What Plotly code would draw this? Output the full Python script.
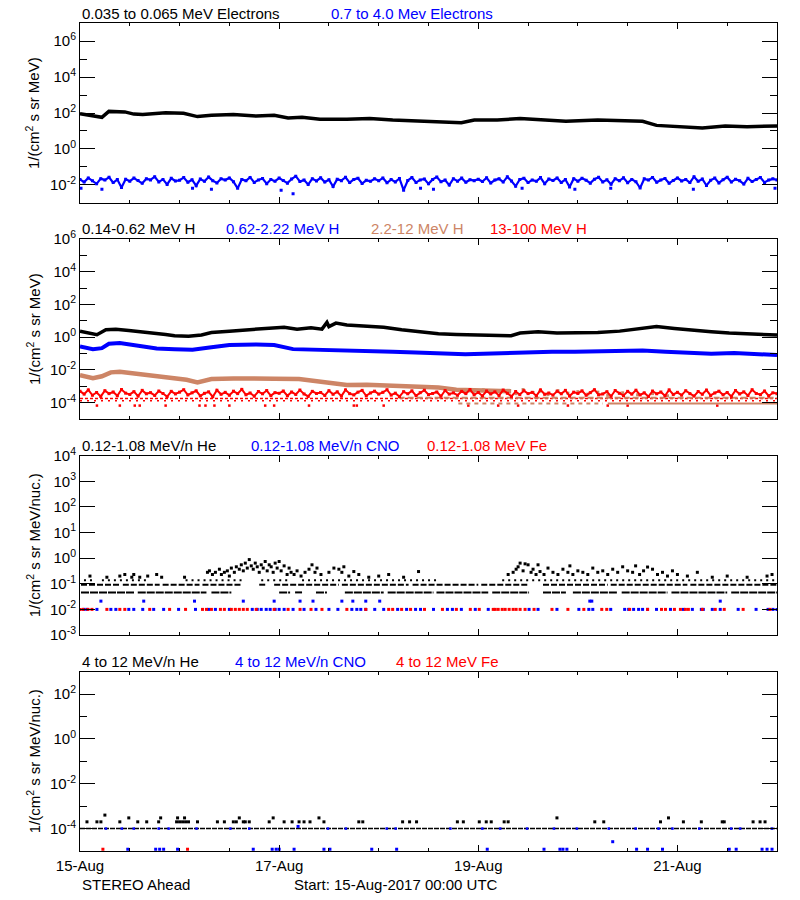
import numpy as np
import plotly.graph_objects as go

BLACK = '#000000'; BLUE = '#0000FF'; RED = '#FF0000'; BROWN = '#CD8566'
FONT = 'Liberation Sans'
FS = 15

# ---------------- Panel 1: electrons ----------------
e_lo_t = [0.00,0.13,0.22,0.29,0.45,0.54,0.63,0.86,1.04,1.18,1.32,1.54,1.77,1.95,2.09,2.23,2.41,2.68,2.91,3.14,3.37,3.60,3.83,3.96,4.19,4.42,4.65,4.88,5.20,5.42,5.65,5.79,6.02,6.25,6.48,6.70,7.00]
e_lo_log = [1.96,1.87,1.76,2.09,2.06,1.94,1.91,2.02,1.98,1.80,1.87,1.91,1.83,1.87,1.72,1.76,1.65,1.65,1.69,1.61,1.57,1.50,1.46,1.61,1.61,1.69,1.61,1.54,1.61,1.57,1.54,1.31,1.24,1.17,1.28,1.24,1.28]

# hourly, log10 values
e_hi_log = [
-1.70,-1.85,-1.62,-1.78,-1.95,-1.66,-1.74,-1.58,-1.88,-1.71,-2.15,-1.69,-1.80,-1.63,-1.76,-1.92,-1.67,-1.73,-1.55,-1.84,-1.70,-1.98,-1.64,-1.79,
-1.75,-1.60,-1.86,-1.72,-2.05,-1.68,-1.81,-1.57,-1.77,-1.90,-1.66,-1.74,-1.62,-1.83,-2.20,-1.70,-1.78,-1.59,-1.87,-1.73,-1.65,-1.94,-1.71,-1.80,
-1.63,-1.76,-1.91,-1.68,-1.52,-1.82,-1.74,-1.99,-1.66,-1.79,-1.61,-1.85,-1.72,-2.10,-1.69,-1.77,-1.58,-1.88,-1.70,-1.64,-1.93,-1.75,-1.81,-1.67,
-1.78,-1.62,-1.89,-1.71,-1.84,-1.65,-2.30,-1.76,-1.60,-1.87,-1.73,-1.68,-1.95,-1.70,-1.57,-1.83,-1.74,-2.02,-1.66,-1.80,-1.63,-1.86,-1.72,-1.77,
-1.69,-1.82,-1.61,-1.90,-1.74,-1.67,-1.85,-1.56,-1.79,-2.08,-1.70,-1.64,-1.88,-1.73,-1.81,-1.60,-1.94,-1.68,-1.76,-1.62,-1.87,-1.71,-2.12,-1.66,
-1.80,-1.64,-1.75,-1.91,-1.69,-1.58,-1.84,-1.72,-1.97,-1.66,-1.78,-1.61,-1.89,-1.70,-1.83,-2.18,-1.67,-1.74,-1.59,-1.86,-1.73,-1.65,-1.92,-1.76,
-1.62,-1.79,-1.70,-1.88,-1.55,-1.81,-1.68,-2.04,-1.75,-1.63,-1.90,-1.72,-1.58,-1.85,-1.69,-1.77,-1.96,-1.64,-1.82,-1.71,-1.60,-1.87,-1.74,-1.67,
-1.73]
e_hi_out_t = [0.01,0.22,1.13,1.32,2.02,2.14,3.42,3.55,4.44,4.97,5.33,6.16,6.98]
e_hi_out_log = [-2.20,-2.25,-2.20,-2.25,-2.30,-2.50,-2.20,-2.25,-2.20,-2.25,-2.20,-2.25,-2.20]

# ---------------- Panel 2: protons ----------------
h1_t = [0.00,0.08,0.17,0.26,0.36,0.49,0.63,0.77,0.86,0.95,1.09,1.22,1.32,1.50,1.68,1.86,2.05,2.18,2.32,2.43,2.48,2.50,2.57,2.68,2.87,3.05,3.23,3.42,3.60,3.78,3.96,4.15,4.33,4.42,4.60,4.79,4.97,5.20,5.42,5.61,5.79,5.97,6.16,6.34,6.52,6.70,7.00]
h1_log = [0.37,0.25,0.15,0.45,0.49,0.41,0.33,0.25,0.17,0.09,0.05,0.13,0.29,0.37,0.45,0.53,0.61,0.49,0.57,0.49,0.90,0.65,0.86,0.74,0.65,0.61,0.45,0.33,0.21,0.17,0.13,0.13,0.09,0.25,0.33,0.25,0.25,0.29,0.37,0.53,0.65,0.53,0.41,0.33,0.25,0.21,0.13]

h2_t = [0.00,0.13,0.22,0.29,0.40,0.58,0.77,0.95,1.13,1.32,1.50,1.77,1.95,2.14,2.32,2.50,2.68,2.91,3.14,3.37,3.60,3.87,4.05,4.33,4.51,4.74,4.97,5.20,5.42,5.65,5.88,6.11,6.34,6.57,6.79,7.00]
h2_log = [-0.57,-0.73,-0.67,-0.40,-0.36,-0.52,-0.69,-0.73,-0.77,-0.61,-0.48,-0.44,-0.48,-0.73,-0.77,-0.81,-0.85,-0.89,-0.89,-0.93,-0.97,-1.05,-1.01,-0.97,-0.89,-0.89,-0.89,-0.85,-0.85,-0.81,-0.89,-0.97,-1.01,-0.97,-1.05,-1.09]

h3_t = [0.00,0.13,0.22,0.31,0.40,0.54,0.72,0.90,1.07,1.18,1.32,1.54,1.77,1.95,2.20,2.32,2.50,2.68,2.88,3.15,3.37,3.60,3.78,4.05,4.33]
h3_log = [-2.32,-2.50,-2.39,-2.15,-2.12,-2.23,-2.39,-2.50,-2.60,-2.76,-2.56,-2.52,-2.50,-2.54,-2.56,-2.66,-2.76,-2.92,-2.90,-2.98,-3.04,-3.08,-3.21,-3.25,-3.31]
h3_pts_t = [3.85,3.95,4.05,4.12,4.20,4.30,4.38,4.45,4.55,4.62,4.70,4.80,4.90,5.00,5.10,5.20,5.30,5.45,5.60,5.75,5.90]
h3_pts_log = [-3.28,-3.35,-3.22,-3.40,-3.30,-3.25,-3.45,-3.20,-3.38,-3.30,-3.50,-3.27,-3.42,-3.33,-3.48,-3.36,-3.55,-3.40,-3.52,-3.45,-3.58]
h3_q1_log = -3.70
h3_q1_seg = [[3.20,7.00]]
h3_q2_log = -4.06
h3_q2_seg = [[3.80,5.25]]
h3_q2b_seg = [[5.30,7.00]]

# hourly, log10 values
h4_log = [
-3.30,-3.48,-3.22,-3.55,-3.38,-3.62,-3.27,-3.45,-3.35,-3.58,-3.20,-3.42,-3.50,-3.33,-3.60,-3.25,-3.46,-3.39,-3.56,-3.29,-3.44,-3.63,-3.31,-3.47,
-3.36,-3.21,-3.53,-3.40,-3.28,-3.59,-3.43,-3.34,-3.64,-3.24,-3.49,-3.37,-3.55,-3.30,-3.45,-3.19,-3.52,-3.41,-3.61,-3.32,-3.46,-3.26,-3.57,-3.39,
-3.43,-3.29,-3.58,-3.35,-3.50,-3.23,-3.47,-3.62,-3.31,-3.44,-3.38,-3.56,-3.27,-3.49,-3.34,-3.60,-3.22,-3.45,-3.53,-3.36,-3.25,-3.58,-3.41,-3.30,
-3.48,-3.37,-3.21,-3.54,-3.42,-3.63,-3.33,-3.46,-3.28,-3.57,-3.39,-3.24,-3.51,-3.44,-3.35,-3.61,-3.26,-3.48,-3.40,-3.55,-3.31,-3.45,-3.20,-3.52,
-3.38,-3.59,-3.29,-3.47,-3.34,-3.56,-3.23,-3.43,-3.62,-3.32,-3.50,-3.27,-3.45,-3.37,-3.58,-3.22,-3.49,-3.41,-3.54,-3.30,-3.46,-3.25,-3.60,-3.36,
-3.44,-3.28,-3.55,-3.39,-3.21,-3.52,-3.47,-3.33,-3.61,-3.26,-3.43,-3.57,-3.31,-3.48,-3.24,-3.53,-3.40,-3.63,-3.29,-3.46,-3.35,-3.58,-3.22,-3.50,
-3.37,-3.54,-3.27,-3.45,-3.60,-3.32,-3.49,-3.23,-3.56,-3.41,-3.30,-3.52,-3.38,-3.62,-3.26,-3.47,-3.34,-3.57,-3.21,-3.44,-3.51,-3.29,-3.59,-3.40,
-3.45]
h4_q1_log = -3.74
h4_q2_log = -3.88
h4_q3_t = [0.17,0.40,0.55,0.60,0.86,1.20,1.26,1.35,1.50,1.86,1.95,2.30,2.75,2.78,3.05,3.90,4.20,4.40,4.90,5.30,5.50,6.40]
h4_q3_log = -4.18

# ---------------- Panel 3: 0.12-1.08 MeV/n ions ----------------
he_l1 = 0.046
he_l1_seg = [[0.01,0.55],[0.58,1.27],[1.32,1.52],[2.00,2.11],[2.16,2.23],[2.37,2.48],[2.66,3.05],[3.09,3.55],[3.58,4.10],[4.14,4.51],[4.65,4.88],[4.95,5.40],[5.44,5.90],[5.94,6.50],[6.54,7.00]]
he_l2 = 0.092
he_l2_seg = [[0.01,0.40],[0.43,0.80],[0.83,1.20],[1.23,1.63],[1.80,1.86],[1.95,2.60],[2.63,3.30],[3.34,4.00],[4.03,4.51],[4.65,5.30],[5.33,6.10],[6.13,7.00]]
he_l3 = 0.138
he_l3_seg = [[0.04,0.13],[0.22,0.68],[1.06,1.63],[1.82,2.09],[2.23,3.60],[4.24,7.00]]
he_hi_t = [0.10,0.27,0.40,0.45,0.52,0.54,0.60,0.68,0.77,0.82,1.05,
           1.28,1.30,1.33,1.36,1.40,1.42,1.45,1.48,1.50,1.52,1.55,1.57,1.60,1.62,1.64,1.66,1.68,1.70,1.72,1.74,1.76,1.78,1.80,1.82,1.84,1.86,1.88,1.90,1.92,1.94,1.96,1.98,2.00,2.02,2.05,2.08,2.10,2.12,2.15,2.18,2.22,2.26,2.30,2.33,2.36,2.38,2.42,2.50,2.55,2.60,2.63,2.65,2.70,2.75,2.80,2.90,3.00,3.10,3.25,3.40,
           4.30,4.35,4.38,4.40,4.42,4.45,4.47,4.50,4.53,4.55,4.58,4.60,4.62,4.66,4.70,4.75,4.80,4.85,4.90,4.92,4.95,5.00,5.05,5.10,5.15,5.20,5.25,5.30,5.35,5.40,5.45,5.50,5.55,5.58,5.62,5.66,5.70,5.75,5.80,5.85,5.90,5.95,6.00,6.10,6.20,6.35,6.50,6.70,6.90,6.95]
he_hi_v = [0.20,0.18,0.20,0.23,0.18,0.23,0.18,0.20,0.23,0.18,0.18,
           0.28,0.32,0.23,0.28,0.37,0.23,0.28,0.32,0.20,0.41,0.28,0.46,0.37,0.55,0.32,0.64,0.41,0.88,0.50,0.37,0.64,0.46,0.28,0.55,0.41,0.74,0.32,0.55,0.46,0.28,0.64,0.41,0.74,0.32,0.50,0.23,0.41,0.28,0.23,0.32,0.20,0.28,0.37,0.55,0.28,0.41,0.23,0.28,0.41,0.37,0.28,0.46,0.20,0.30,0.23,0.18,0.20,0.23,0.18,0.30,
           0.23,0.28,0.37,0.46,0.64,0.32,0.60,0.55,0.28,0.37,0.23,0.55,0.30,0.23,0.41,0.28,0.23,0.37,0.28,0.50,0.23,0.32,0.28,0.23,0.41,0.28,0.32,0.23,0.37,0.28,0.46,0.32,0.28,0.50,0.23,0.32,0.45,0.37,0.23,0.28,0.20,0.32,0.23,0.20,0.28,0.18,0.20,0.18,0.20,0.23]
cno_lo_level = 0.010
cno_lo_t = [0.04,0.07,0.17,0.31,0.36,0.49,0.54,0.63,0.74,0.84,0.99,1.16,1.29,1.36,1.50,1.73,1.78,1.82,1.87,1.91,1.96,2.00,2.05,2.14,2.25,2.37,2.50,2.59,2.73,2.78,2.82,2.87,2.96,3.05,3.19,3.28,3.37,3.42,3.55,3.69,3.74,3.83,3.97,4.10,4.51,4.60,4.79,5.01,5.11,5.15,5.33,5.47,5.51,5.56,5.61,5.65,5.70,5.79,5.93,6.06,6.15,6.24,6.26,6.35,6.43,6.61,6.79,6.91,6.96,7.00]
cno_lo2_t = [0.21,0.64,1.15,1.64,1.95,2.21,2.34,2.63,2.74,2.87,3.01,5.12,5.14,6.43]
cno_lo2_level = 0.021
fe_lo_t = [0.00,0.03,0.08,0.12,0.27,0.40,0.45,0.70,0.90,1.06,1.23,1.27,1.32,1.41,1.45,1.52,1.56,1.60,1.64,1.68,1.77,1.95,2.09,2.21,2.32,2.43,2.68,2.87,3.10,3.14,3.23,3.32,3.46,3.64,3.78,3.92,4.01,4.15,4.17,4.20,4.24,4.27,4.31,4.35,4.38,4.42,4.47,4.56,4.74,4.90,5.06,5.24,5.29,5.52,5.70,5.84,5.88,5.97,6.03,6.08,6.11,6.25,6.38,6.47,6.66,6.93]

# ---------------- Panel 4: 4-12 MeV/n ions ----------------
he4_level = 1.0e-4
he4_seg = [[0.00,7.00]]
he4_2_t = [0.07,0.17,0.21,0.40,0.58,0.67,0.79,0.97,1.00,1.03,1.06,1.09,1.18,1.38,1.45,1.54,1.57,1.64,1.66,1.70,1.90,2.05,2.13,2.20,2.25,2.31,2.45,2.80,2.84,3.24,3.31,3.38,3.79,3.85,4.01,4.08,4.13,4.26,4.30,5.17,5.26,5.83,6.06,6.24,6.45,6.47,6.76,6.83,6.88]
he4_2_level = 2.0e-4
he4_3_t = [0.49,0.81,0.98,1.05,1.60,1.94,2.40,4.79,5.91]
he4_3_level = 3.0e-4
he4_4_t = [0.25]
he4_4_level = 4.0e-4
cno4_mid_t = [0.26,0.42,0.54,0.79,0.89,1.17,1.51,1.70,2.49,2.67,3.08,3.17,3.72,4.04,4.22,4.49,4.76,4.99,5.31,5.58,5.81,5.95,6.22,6.54,6.63,6.95]
cno4_mid_level = 1.0e-4
cno4_odd_t = [2.19,5.35]
cno4_odd_v = [1.25e-4,2.6e-5]
cno4_low_t = [0.48,0.76,0.80,0.84,0.98,1.74,1.93,1.97,2.00,2.15,2.45,2.51,2.93,3.18,4.09,4.66,4.82,4.85,4.89,5.59,5.70,5.85,6.52,6.59,6.85,6.90,6.95]
cno4_low_level = 1.2e-5
fe4_low_t = [0.23,1.08]
fe4_low_level = 1.2e-5

# ---------------- axes / labels ----------------
x_major = [0, 2, 4, 6]
x_major_text = ['15-Aug', '17-Aug', '19-Aug', '21-Aug']
x_minor = [0.5, 1, 1.5, 2.5, 3, 3.5, 4.5, 5, 5.5, 6.5, 7]

titles = [
    [('0.035 to 0.065 MeV Electrons', BLACK, 80), ('0.7 to 4.0 Mev Electrons', BLUE, 329)],
    [('0.14-0.62 MeV H', BLACK, 80), ('0.62-2.22 MeV H', BLUE, 224), ('2.2-12 MeV H', BROWN, 369), ('13-100 MeV H', RED, 488)],
    [('0.12-1.08 MeV/n He', BLACK, 80), ('0.12-1.08 MeV/n CNO', BLUE, 249), ('0.12-1.08 MeV Fe', RED, 425)],
    [('4 to 12 MeV/n He', BLACK, 80), ('4 to 12 MeV/n CNO', BLUE, 233), ('4 to 12 MeV Fe', RED, 394)],
]
ylabels = ['1/(cm<sup>2</sup> s sr MeV)', '1/(cm<sup>2</sup> s sr MeV)',
           '1/(cm<sup>2</sup> s sr MeV/nuc.)', '1/(cm<sup>2</sup> s sr MeV/nuc.)']
yranges = [[-3, 7], [-5, 6], [-3, 4], [-5, 3]]
ymajor = [[-2, 0, 2, 4, 6], [-4, -2, 0, 2, 4, 6], [-3, -2, -1, 0, 1, 2, 3, 4], [-4, -2, 0, 2]]
yminor = [[-1, 1, 3, 5], [-3, -1, 1, 3, 5], [], [-3, -1, 1]]

# pixel layout of plot boxes (top, bottom)
W, H = 800, 900
boxes = [(23.3, 202.7), (239, 419), (455.7, 635), (671.7, 851)]
XL, XR = 80, 777

fig = go.Figure()


def ax(k):
    return ('x' if k == 1 else 'x%d' % k), ('y' if k == 1 else 'y%d' % k)


def seg_xy(segs, level):
    xs, ys = [], []
    for a, b in segs:
        xs += [a, b, None]
        ys += [level, level, None]
    return xs, ys


def add_line(k, x, y, color, width, dash='solid'):
    xa, ya = ax(k)
    fig.add_trace(go.Scatter(x=x, y=y, mode='lines', xaxis=xa, yaxis=ya,
                             line=dict(color=color, width=width, dash=dash),
                             hoverinfo='skip', connectgaps=False))


def add_pts(k, x, y, color, size=3):
    xa, ya = ax(k)
    fig.add_trace(go.Scatter(x=x, y=y, mode='markers', xaxis=xa, yaxis=ya,
                             marker=dict(symbol='square', size=size, color=color, line=dict(width=0)),
                             hoverinfo='skip'))


hours = np.arange(len(e_hi_log)) / 24.0

# Panel 1
add_line(1, hours, 10 ** np.array(e_hi_log), BLUE, 2.2)
add_pts(1, hours, 10 ** np.array(e_hi_log), BLUE, 3)
add_pts(1, e_hi_out_t, 10 ** np.array(e_hi_out_log), BLUE, 3)
add_line(1, e_lo_t, 10 ** np.array(e_lo_log), BLACK, 3.5)

# Panel 2
h4_hours = np.arange(len(h4_log)) / 24.0
x, y = seg_xy([[0, 7]], 10 ** h4_q2_log)
add_line(2, x, y, RED, 1.5, '2px,5px')
x, y = seg_xy([[0, 7]], 10 ** h4_q1_log)
add_line(2, x, y, RED, 1.5, '3px,2px')
add_pts(2, h4_q3_t, [10 ** h4_q3_log] * len(h4_q3_t), RED, 2.5)
x, y = seg_xy(h3_q1_seg, 10 ** h3_q1_log)
add_line(2, x, y, BROWN, 2, '6px,3px')
x, y = seg_xy(h3_q2_seg, 10 ** h3_q2_log)
add_line(2, x, y, BROWN, 2, '4px,4px')
x, y = seg_xy(h3_q2b_seg, 10 ** h3_q2_log)
add_line(2, x, y, BROWN, 2)
add_pts(2, h3_pts_t, 10 ** np.array(h3_pts_log), BROWN, 3)
add_line(2, h3_t, 10 ** np.array(h3_log), BROWN, 4.5)
add_line(2, h4_hours, 10 ** np.array(h4_log), RED, 2.0)
add_pts(2, h4_hours, 10 ** np.array(h4_log), RED, 3)
add_line(2, h2_t, 10 ** np.array(h2_log), BLUE, 4)
add_line(2, h1_t, 10 ** np.array(h1_log), BLACK, 3.5)

# Panel 3
x, y = seg_xy(he_l1_seg, he_l1)
add_line(3, x, y, BLACK, 2, '8px,1px')
x, y = seg_xy(he_l2_seg, he_l2)
add_line(3, x, y, BLACK, 2, '6px,2px')
x, y = seg_xy(he_l3_seg, he_l3)
add_line(3, x, y, BLACK, 2, '2px,4px')
add_pts(3, he_hi_t, he_hi_v, BLACK, 3)
add_pts(3, cno_lo_t, [cno_lo_level] * len(cno_lo_t), BLUE, 3)
add_pts(3, fe_lo_t, [cno_lo_level] * len(fe_lo_t), RED, 3)
add_pts(3, cno_lo2_t, [cno_lo2_level] * len(cno_lo2_t), BLUE, 3)

# Panel 4
x, y = seg_xy(he4_seg, he4_level)
add_line(4, x, y, BLACK, 1.5, '5px,1px')
add_pts(4, cno4_mid_t, [cno4_mid_level] * len(cno4_mid_t), BLUE, 2.5)
add_pts(4, he4_2_t, [he4_2_level] * len(he4_2_t), BLACK, 3)
add_pts(4, he4_3_t, [he4_3_level] * len(he4_3_t), BLACK, 3)
add_pts(4, he4_4_t, [he4_4_level] * len(he4_4_t), BLACK, 3)
add_pts(4, cno4_odd_t, cno4_odd_v, BLUE, 3)
add_pts(4, cno4_low_t, [cno4_low_level] * len(cno4_low_t), BLUE, 3)
add_pts(4, fe4_low_t, [fe4_low_level] * len(fe4_low_t), RED, 3)

layout = dict(template='none', width=W, height=H, margin=dict(l=0, r=0, t=0, b=0, pad=0),
              paper_bgcolor='white', plot_bgcolor='white', showlegend=False,
              font=dict(family=FONT, size=FS, color=BLACK))
annotations = []
for i in range(4):
    k = i + 1
    top, bot = boxes[i]
    dom_y = [1 - bot / H, 1 - top / H]
    xkey = 'xaxis' if k == 1 else 'xaxis%d' % k
    ykey = 'yaxis' if k == 1 else 'yaxis%d' % k
    layout[xkey] = dict(domain=[XL / W, XR / W], range=[0, 7], anchor=ax(k)[1],
                        automargin=False,
                        showline=True, linecolor=BLACK, linewidth=1, mirror='allticks',
                        ticks='inside', ticklen=6, tickcolor=BLACK, tickwidth=1,
                        tickvals=x_major, ticktext=x_major_text,
                        showticklabels=(k == 4), showgrid=False, zeroline=False,
                        tickfont=dict(family=FONT, size=FS, color=BLACK),
                        ticklabelstandoff=1,
                        minor=dict(tickvals=x_minor, ticks='inside', ticklen=3,
                                   tickcolor=BLACK, tickwidth=1, showgrid=False))
    if k > 1:
        layout[xkey]['matches'] = 'x'
    ymin = dict(ticks='inside', ticklen=7, tickcolor=BLACK, tickwidth=1, showgrid=False,
                tickvals=[10.0 ** v for v in yminor[i]]) if yminor[i] else dict(ticks='', showgrid=False)
    layout[ykey] = dict(domain=dom_y, type='log', range=yranges[i], anchor=ax(k)[0],
                        automargin=False,
                        showline=True, linecolor=BLACK, linewidth=1, mirror='allticks',
                        ticks='inside', ticklen=15, tickcolor=BLACK, tickwidth=1,
                        tickvals=[10.0 ** v for v in ymajor[i]],
                        ticktext=['10<sup>%d</sup>' % v for v in ymajor[i]],
                        showgrid=False, zeroline=False,
                        tickfont=dict(family=FONT, size=FS, color=BLACK),
                        minor=ymin)
    ty = 1 - (top - 10.3) / H
    for text, col, px in titles[i]:
        annotations.append(dict(text=text, x=px / W, y=ty, xref='paper', yref='paper',
                                xanchor='left', yanchor='middle', showarrow=False,
                                font=dict(family=FONT, size=FS, color=col)))
    annotations.append(dict(text=ylabels[i], x=33 / W, y=1 - (top + bot) / 2 / H,
                            xref='paper', yref='paper', xanchor='center', yanchor='middle',
                            textangle=-90, showarrow=False,
                            font=dict(family=FONT, size=FS, color=BLACK)))
annotations.append(dict(text='STEREO Ahead', x=80 / W, y=1 - 884 / H, xref='paper', yref='paper',
                        xanchor='left', yanchor='middle', showarrow=False,
                        font=dict(family=FONT, size=FS, color=BLACK)))
annotations.append(dict(text='Start: 15-Aug-2017 00:00 UTC', x=292 / W, y=1 - 884 / H,
                        xref='paper', yref='paper', xanchor='left', yanchor='middle',
                        showarrow=False, font=dict(family=FONT, size=FS, color=BLACK)))
layout['annotations'] = annotations
fig.update_layout(**layout)
fig.write_html('out.html')
